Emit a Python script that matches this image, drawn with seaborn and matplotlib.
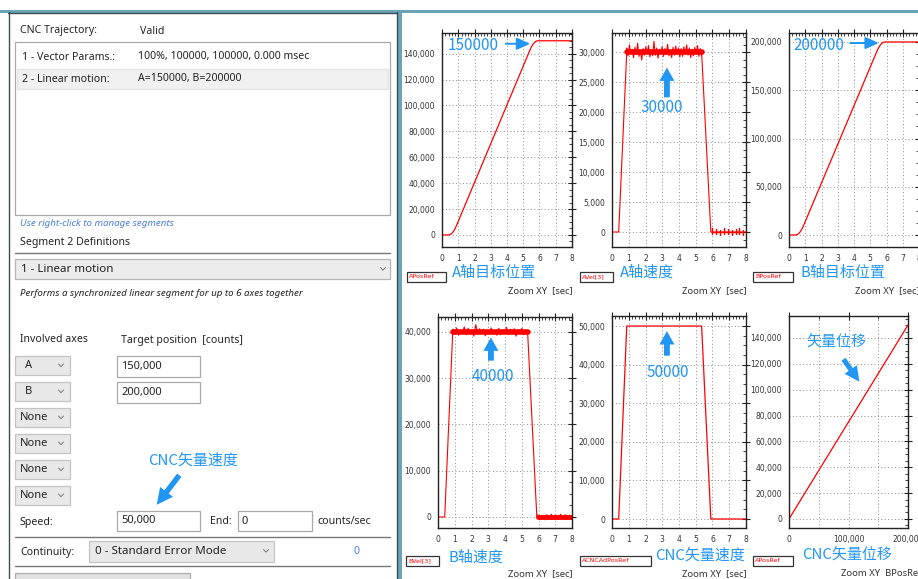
import matplotlib
matplotlib.use('Agg')
import matplotlib.pyplot as plt
import seaborn as sns
import numpy as np
import pandas as pd
from matplotlib.patches import Rectangle
from matplotlib.ticker import MultipleLocator, AutoMinorLocator, FuncFormatter

# 速度/位置曲线数据 (从截图读取)
pos_t = [0, 0.4, 0.5, 0.6, 0.7, 0.8, 0.9, 5.4, 5.5, 5.6, 5.7, 5.8, 5.9, 8.0]
a_pos = [0, 0, 300, 1200, 2700, 4800, 7500, 142500, 145200, 147300, 148800, 149700, 150000, 150000]
b_pos = [0, 0, 400, 1600, 3600, 6400, 10000, 190000, 193600, 196400, 198400, 199600, 200000, 200000]

vel_t = [0, 0.4, 0.88, 5.35, 5.9, 8.0]
a_vel = [0, 0, 30000, 30000, 0, 0]
b_vel = [0, 0, 40000, 40000, 0, 0]
cnc_vel = [0, 0, 50000, 50000, 0, 0]

# 平台段噪声 (counts)
a_ripple = [700, -600, 1200, -300, 500, -900, 800, -400, 1500, -700, 300, -1300, 600, -500,
            900, -200, 1100, -800, 400, -600, 1800, -500, 700, -1000, 500, -300, 900, -700,
            600, -400, 1300, -600, 200, -900, 800, -500, 1000, -300, 700, -800, 600, -700,
            900, -400, 1200, -500, 700, -900, 500, -600, 800, -300, 1100, -700, 600, -500]
b_ripple = [600, -500, 900, -700, 400, -300, 1100, -600, 800, -400, 500, -900, 1600, -500,
            700, -300, 600, -800, 400, -500, 900, -400, 300, -700, 800, -600, 500, -300,
            1000, -500, 600, -400, 700, -900, 500, -300, 800, -600, 400, -500]
# 停止后零点附近的尖峰 (时间, 幅值)
a_tail_t = [6.0, 6.2, 6.45, 6.7, 6.9, 7.15, 7.4, 7.6, 7.85]
a_tail_h = [600, 500, -500, 600, 450, -550, 500, 600, -500]
b_tail = [500, -500, 400, -600, 500, -400, 600, -500, 400, -500, 600, -400, 500, -500, 400, -500]

xy_b = [0, 200000]
xy_a = [0, 150000]

BLUE = '#2196f3'
RED = '#ff0000'
W, H = 918, 579

sns.set_style('white')
plt.rcParams['font.family'] = ['Noto Sans', 'Noto Sans CJK SC', 'DejaVu Sans']
CJK = ['Noto Sans CJK SC', 'DejaVu Sans']

fig = plt.figure(figsize=(W / 100, H / 100), dpi=100)

# 背景层 (像素坐标)
ui = fig.add_axes([0, 0, 1, 1])
ui.set_xlim(0, W)
ui.set_ylim(H, 0)
ui.axis('off')

ui.add_patch(Rectangle((0, 10), W, 3, color='#6aa3b5', lw=0))
ui.add_patch(Rectangle((397, 10), 5, H, color='#6aa3b5', lw=0))
ui.plot([8, 396], [12.5, 12.5], color='#3d4d55', lw=1)
ui.plot([8.5, 8.5], [12, H], color='#3d4d55', lw=1)
ui.plot([396.5, 396.5], [12, H], color='#3d4d55', lw=1)

FS = 7.6


def label(x, y, s, **kw):
    kw.setdefault('fontsize', FS)
    kw.setdefault('color', '#222222')
    ui.text(x, y, s, va='center', ha=kw.pop('ha', 'left'), **kw)


def box(x0, y0, x1, y1, fc='white', ec='#a9a9a9'):
    ui.add_patch(Rectangle((x0, y0), x1 - x0, y1 - y0, facecolor=fc, edgecolor=ec, lw=0.9))


def chevron(x, y):
    ui.plot([x - 2.5, x, x + 2.5], [y - 1.5, y + 1.2, y - 1.5], color='#777777', lw=0.7)


label(20, 31, 'CNC Trajectory:')
label(140, 31, 'Valid')
box(15, 42, 390, 215)
box(17, 69, 388, 89, fc='#f0f0f0', ec='#e4e4e4')
label(22, 57, '1 - Vector Params.:')
label(138, 57, '100%, 100000, 100000, 0.000 msec')
label(22, 79, '2 - Linear motion:')
label(138, 79, 'A=150000, B=200000')
label(20, 223, 'Use right-click to manage segments', fontsize=7, style='italic', color='#4a7fd8')
label(20, 242, 'Segment 2 Definitions')
ui.plot([15, 390], [253, 253], color='#777777', lw=1)
box(15, 259, 390, 279, fc='#ececec', ec='#b5b5b5')
label(21, 269, '1 - Linear motion', fontsize=8.3)
chevron(383, 269)
label(20, 293, 'Performs a synchronized linear segment for up to 6 axes together',
      fontsize=7, style='italic')

label(20, 340, 'Involved axes')
label(121, 340, 'Target position  [counts]')
axis_names = ['A', 'B', 'None', 'None', 'None', 'None']
for i, name in enumerate(axis_names):
    y0 = 356 + 26 * i
    box(15, y0, 70, y0 + 19, fc='#e8e8e8', ec='#c4c4c4')
    label(25 if len(name) == 1 else 20, y0 + 9.5, name, fontsize=8)
    chevron(61, y0 + 9.5)
box(117, 356, 200, 377)
label(121, 366.5, '150,000', fontsize=8)
box(117, 382, 200, 403)
label(121, 392.5, '200,000', fontsize=8)

label(193, 461, 'CNC矢量速度', fontsize=10.8, color=BLUE, family=CJK, ha='center')
ui.annotate('', xy=(155, 507), xytext=(181, 473),
            arrowprops=dict(arrowstyle='simple,head_width=0.9,head_length=0.9,tail_width=0.3',
                            color=BLUE, lw=0, mutation_scale=13))

label(20, 522, 'Speed:')
box(117, 511, 200, 531)
label(121, 521, '50,000', fontsize=8)
label(210, 522, 'End:')
box(238, 511, 312, 531)
label(241, 521, '0', fontsize=8)
label(317, 522, 'counts/sec')
ui.plot([15, 390], [537, 537], color='#777777', lw=1)
label(20, 552, 'Continuity:')
box(89, 541, 274, 562, fc='#e8e8e8', ec='#c4c4c4')
label(95, 551.5, '0 - Standard Error Mode', fontsize=8.3)
chevron(266, 551)
label(353, 552, '0', color='#4a7fd8')
ui.plot([15, 390], [566, 566], color='#777777', lw=1)
box(15, 573, 190, 590, fc='#e1e1e1', ec='#adadad')


def px_axes(l, t, r, b):
    return fig.add_axes([l / W, 1 - b / H, (r - l) / W, (b - t) / H])


def style(ax, xlim, ylim, xmaj, xmin, ymaj):
    ax.set_xlim(*xlim)
    ax.set_ylim(*ylim)
    ax.set_facecolor('white')
    ax.xaxis.set_major_locator(MultipleLocator(xmaj))
    ax.xaxis.set_minor_locator(MultipleLocator(xmin))
    ax.yaxis.set_major_locator(MultipleLocator(ymaj))
    ax.yaxis.set_minor_locator(AutoMinorLocator(4))
    fmt = FuncFormatter(lambda v, p: f'{int(round(v)):,}')
    ax.yaxis.set_major_formatter(fmt)
    ax.xaxis.set_major_formatter(fmt)
    ax.tick_params(which='major', direction='inout', length=6, width=0.8, top=True, right=True,
                   labelsize=5.5, pad=2, colors='#222222', labelcolor='#333333')
    ax.tick_params(which='minor', direction='in', length=2.5, width=0.6, top=True, right=True,
                   colors='#222222')
    for lab in ax.get_xticklabels() + ax.get_yticklabels():
        lab.set_family('DejaVu Sans')
    ax.grid(True, which='major', linestyle=(0, (1, 2.5)), color='#8c8c8c', linewidth=0.7)
    for s in ax.spines.values():
        s.set_color('#222222')
        s.set_linewidth(1)
    ax.set_xlabel('')
    ax.set_ylabel('')


def line(ax, x, y, lw=0.9):
    sns.lineplot(x=x, y=y, ax=ax, color=RED, lw=lw, estimator=None, sort=False)


def noisy(level, ripple):
    t = list(vel_t[:3]) + list(np.linspace(vel_t[2], vel_t[3], len(ripple))) + list(vel_t[3:])
    v = [0, 0, level] + [level + r for r in ripple] + [level, 0, 0]
    return t, v


def up_arrow(ax, x, y0, y1):
    ax.annotate('', xy=(x, y1), xytext=(x, y0),
                arrowprops=dict(arrowstyle='simple,head_width=0.9,head_length=0.8,tail_width=0.35',
                                color=BLUE, lw=0, mutation_scale=12))


def side_arrow(ax, x0, x1, y):
    ax.annotate('', xy=(x1, y), xytext=(x0, y),
                arrowprops=dict(arrowstyle='-|>,head_width=0.45,head_length=1.0',
                                color=BLUE, lw=1.4, mutation_scale=8))


# 图1 A轴目标位置
ax1 = px_axes(442, 33, 572, 247)
line(ax1, pos_t, a_pos)
style(ax1, (0, 8), (-9300, 156000), 1, 0.2, 20000)
ax1.text(0.37, 146200, '150000', color=BLUE, fontsize=11, family=CJK, va='center')
side_arrow(ax1, 3.75, 5.6, 147700)

# 图2 A轴速度
ax2 = px_axes(612, 33, 746, 247)
t, v = noisy(30000, a_ripple)
sns.lineplot(x=[vel_t[2], vel_t[3]], y=[30000, 30000], ax=ax2, color=RED, lw=4, estimator=None)
line(ax2, t, v, lw=0.8)
spike_t, spike_v = [], []
for ts, hs in zip(a_tail_t, a_tail_h):
    spike_t += [ts, ts, ts, ts]
    spike_v += [0, hs, -hs * 0.6, 0]
line(ax2, spike_t, spike_v, lw=0.9)
style(ax2, (0, 8), (-2500, 33200), 1, 0.2, 5000)
ax2.text(3.0, 20840, '30000', color=BLUE, fontsize=11, family=CJK, va='center', ha='center')
up_arrow(ax2, 3.28, 22000, 27900)

# 图3 B轴目标位置
ax3 = px_axes(789, 33, 919, 247)
line(ax3, pos_t, b_pos)
style(ax3, (0, 8), (-12400, 209300), 1, 0.2, 50000)
ax3.text(0.25, 196800, '200000', color=BLUE, fontsize=11, family=CJK, va='center')
side_arrow(ax3, 3.6, 5.7, 198900)

# 图4 B轴速度
ax4 = px_axes(438, 317, 572, 528)
t, v = noisy(40000, b_ripple)
sns.lineplot(x=[vel_t[2], vel_t[3]], y=[40000, 40000], ax=ax4, color=RED, lw=4, estimator=None)
sns.lineplot(x=[5.95, 8.0], y=[0, 0], ax=ax4, color=RED, lw=3.5, estimator=None)
line(ax4, t, v, lw=0.8)
line(ax4, list(np.linspace(5.95, 8.0, len(b_tail))), b_tail, lw=0.8)
style(ax4, (0, 8), (-2380, 43240), 1, 0.2, 10000)
ax4.text(3.28, 30270, '40000', color=BLUE, fontsize=11, family=CJK, va='center', ha='center')
up_arrow(ax4, 3.16, 33200, 39400)

# 图5 CNC矢量速度
ax5 = px_axes(612, 316, 746, 528)
line(ax5, vel_t, cnc_vel)
style(ax5, (0, 8), (-2330, 52600), 1, 0.2, 10000)
ax5.text(3.34, 38070, '50000', color=BLUE, fontsize=11, family=CJK, va='center', ha='center')
up_arrow(ax5, 3.28, 41600, 49400)

# 图6 CNC矢量位移 (A vs B)
ax6 = px_axes(789, 316, 908, 528)
line(ax6, xy_b, xy_a)
style(ax6, (0, 200000), (-7000, 157000), 100000, 50000, 20000)
ax6.grid(True, which='minor', axis='x', linestyle=(0, (1, 2.5)), color='#8c8c8c', linewidth=0.7)
ax6.text(79000, 136100, '矢量位移', color=BLUE, fontsize=10.8, family=CJK, va='center', ha='center')
ax6.annotate('', xy=(121000, 104400), xytext=(88900, 125300),
             arrowprops=dict(arrowstyle='simple,head_width=0.9,head_length=0.9,tail_width=0.3',
                             color=BLUE, lw=0, mutation_scale=12))

# 图例框与中文标题
legends = [
    (407, 446, 277, 'APosRef', 452, 273, 'A轴目标位置', 508, 291, 'Zoom XY  [sec]'),
    (580, 613, 277, 'AVel[3]', 620, 273, 'A轴速度', 682, 291, 'Zoom XY  [sec]'),
    (753, 793, 277, 'BPosRef', 800, 273, 'B轴目标位置', 855, 291, 'Zoom XY  [sec]'),
    (406, 439, 561, 'BVel[3]', 448, 558, 'B轴速度', 508, 574, 'Zoom XY  [sec]'),
    (580, 651, 561, 'ACNCAdPosRef', 655, 556, 'CNC矢量速度', 682, 574, 'Zoom XY  [sec]'),
    (753, 793, 561, 'APosRef', 802, 556, 'CNC矢量位移', 841, 574, 'Zoom XY  BPosRef'),
]
for x0, x1, yc, tag, tx, ty, title, zx, zy, zoom in legends:
    box(x0, yc - 5, x1, yc + 5, fc='white', ec='#333333')
    label(x0 + 2, yc, tag, fontsize=4.6, color=RED, family='DejaVu Sans')
    label(tx, ty, title, fontsize=10.8, color=BLUE, family=CJK)
    label(zx, zy, zoom, fontsize=6.8, color='#333333')

fig.savefig('out.png', dpi=100)
